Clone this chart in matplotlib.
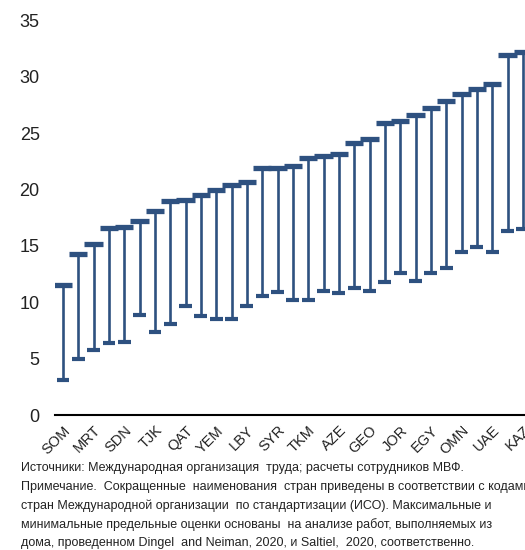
import matplotlib
matplotlib.use("Agg")
import matplotlib.pyplot as plt
import numpy as np

plt.rcParams['font.family'] = ['Liberation Sans', 'DejaVu Sans']

# Country codes (only every other category is labelled in the reference)
categories = ["SOM", "", "MRT", "", "SDN", "", "TJK", "", "QAT", "", "YEM", "",
              "LBY", "", "SYR", "", "TKM", "", "AZE", "", "GEO", "", "JOR", "",
              "EGY", "", "OMN", "", "UAE", "", "KAZ"]
upper = [11.5, 14.3, 15.2, 16.6, 16.7, 17.2, 18.1, 19.0, 19.1, 19.5, 20.0, 20.4,
         20.7, 21.9, 21.9, 22.1, 22.8, 23.0, 23.2, 24.1, 24.5, 25.9, 26.1, 26.6,
         27.2, 27.9, 28.5, 28.9, 29.4, 31.9, 32.2]
lower = [3.1, 5.0, 5.8, 6.4, 6.5, 8.9, 7.4, 8.1, 9.7, 8.8, 8.5, 8.5,
         9.7, 10.6, 10.9, 10.2, 10.2, 11.0, 10.8, 11.3, 11.0, 11.8, 12.6, 11.9,
         12.6, 13.0, 14.5, 14.9, 14.5, 16.3, 16.5]
yticks = [0, 5, 10, 15, 20, 25, 30, 35]

note_lines = [
    "Источники: Международная организация  труда; расчеты сотрудников МВФ.",
    "Примечание.  Сокращенные  наименования  стран приведены в соответствии с кодами",
    "стран Международной организации  по стандартизации (ИСО). Максимальные и",
    "минимальные предельные оценки основаны  на анализе работ, выполняемых из",
    "дома, проведенном Dingel  and Neiman, 2020, и Saltiel,  2020, соответственно.",
]

color = "#2E5180"
W, H = 525, 550
fig = plt.figure(figsize=(W / 100, H / 100), dpi=100)
ax = fig.add_axes([55 / W, 1 - 415 / H, 1 - 55 / W, (415 - 20.5) / H])

x = np.arange(len(categories))
ax.vlines(x, lower, upper, color=color, linewidth=1.9)
ax.hlines(upper, x - 0.6, x + 0.6, color=color, linewidth=3.8)
ax.hlines(lower, x - 0.42, x + 0.42, color=color, linewidth=3.0)

ax.set_xlim(-0.52, 30.14)
ax.set_ylim(0, 35)
ax.set_yticks(yticks)
ax.set_yticklabels([str(t) for t in yticks], fontsize=13, color="#222222")
ax.set_xticks(x)
ax.set_xticklabels(categories, rotation=45, ha="right", rotation_mode="anchor",
                   fontsize=10.5, color="#222222")
ax.tick_params(axis="both", length=0)
ax.tick_params(axis="y", pad=11)
ax.tick_params(axis="x", pad=6)
for s in ["top", "right", "left"]:
    ax.spines[s].set_visible(False)
ax.spines["bottom"].set_color("black")
ax.spines["bottom"].set_linewidth(1.5)

ys = [468, 487, 506, 525, 543]
for line, yy in zip(note_lines, ys):
    fig.text(21 / W, 1 - yy / H, line, fontsize=9.0, va="center", ha="left",
             color="#222222")

fig.savefig("out.png", dpi=100)
